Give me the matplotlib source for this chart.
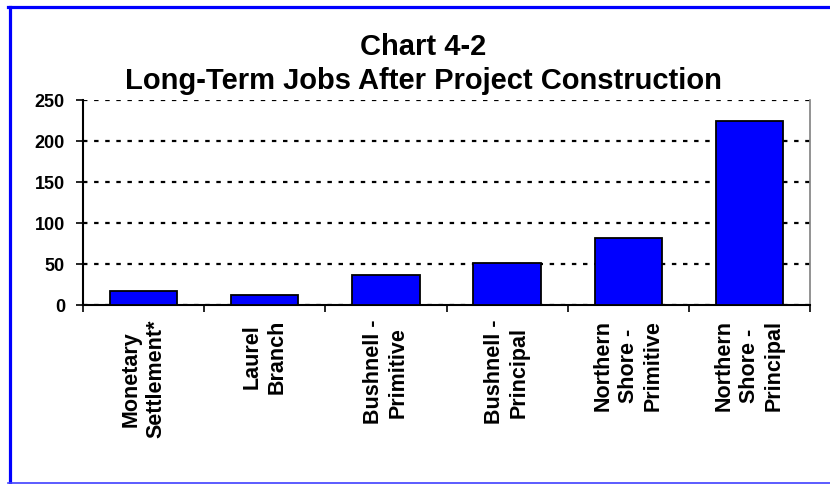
import matplotlib
matplotlib.use("Agg")
import matplotlib.pyplot as plt
from matplotlib.lines import Line2D

plt.rcParams['font.family'] = ['Liberation Sans', 'DejaVu Sans']

# data
projects = ["Monetary\nSettlement*", "Laurel\nBranch", "Bushnell -\nPrimitive",
            "Bushnell -\nPrincipal", "Northern\nShore -\nPrimitive", "Northern\nShore -\nPrincipal"]
jobs = [17, 12, 36, 51, 82, 224]
yticks = [0, 50, 100, 150, 200, 250]

W, H = 830, 485
fig = plt.figure(figsize=(W / 100, H / 100), dpi=100)
ax = fig.add_axes([83 / W, 1 - 306 / H, (810 - 83) / W, (306 - 101) / H])

x = list(range(len(projects)))
ax.bar(x, jobs, width=0.556, color="#0000ff", edgecolor="black", linewidth=1.3, zorder=3)

ax.set_xlim(-0.5, len(projects) - 0.5)
ax.set_ylim(0, 250)
ax.set_yticks(yticks)
ax.set_yticklabels([str(v) for v in yticks], fontsize=13, fontweight="bold")
ax.yaxis.grid(True, color="black", linestyle=(0, (2, 3)), linewidth=1.6, zorder=0)
ax.set_axisbelow(True)

# category ticks sit on the boundaries, labels centred under the bars
ax.set_xticks([i - 0.5 for i in range(len(projects) + 1)])
ax.set_xticklabels([])
ax.set_xticks(x, minor=True)
ax.set_xticklabels(projects, minor=True, rotation=90, fontsize=15.5, fontweight="bold",
                   va="top", ha="center", multialignment="center", linespacing=1.25)
ax.tick_params(axis="x", which="minor", length=0, pad=10)
ax.tick_params(axis="x", which="major", length=5, width=1.2, direction="out")
ax.tick_params(axis="y", length=5, width=1.2, direction="out", pad=8)

ax.spines["top"].set_visible(False)
ax.spines["right"].set_color("#808080")
ax.spines["right"].set_linewidth(1.2)
ax.spines["left"].set_linewidth(1.5)
ax.spines["bottom"].set_linewidth(1.5)

fig.text(423 / W, 1 - 55 / H, "Chart 4-2", ha="center", va="baseline",
         fontsize=21, fontweight="bold")
fig.text(423 / W, 1 - 89 / H, "Long-Term Jobs After Project Construction", ha="center",
         va="baseline", fontsize=21, fontweight="bold")

# blue frame around the chart
fig.add_artist(Line2D([9.5 / W, 9.5 / W], [1 - 7.5 / H, 1 - 484 / H], color="#0000ff", lw=2.3,
                      transform=fig.transFigure))
fig.add_artist(Line2D([8 / W, 1], [1 - 7.5 / H, 1 - 7.5 / H], color="#0000ff", lw=2.3,
                      transform=fig.transFigure))
fig.add_artist(Line2D([8 / W, 1], [1 - 484 / H, 1 - 484 / H], color="#4040ff", lw=1.2,
                      transform=fig.transFigure))

fig.savefig("out.png", dpi=100)
